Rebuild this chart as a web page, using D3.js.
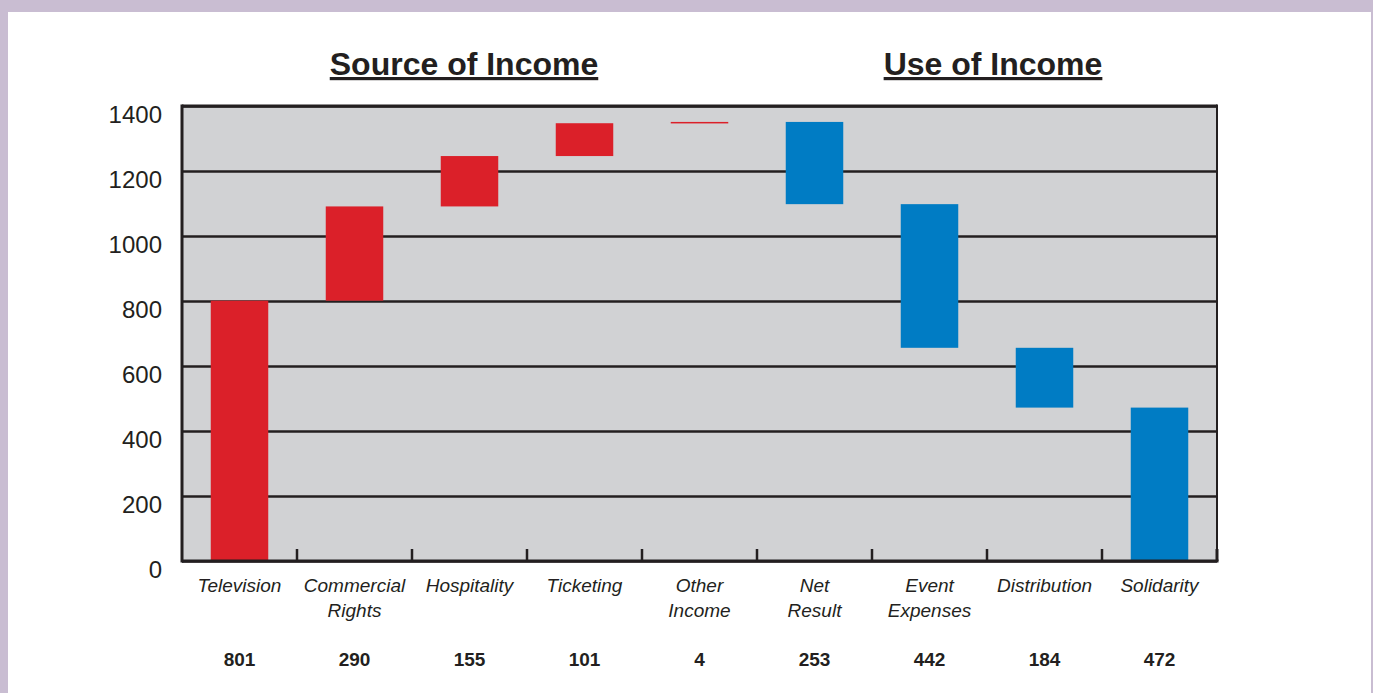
<html>
<head>
<script src="https://cdn.jsdelivr.net/npm/d3@7"></script>
<style>
  body { margin:0; background:#c9bdd2; }
  svg { display:block; }
</style>
</head>
<body>
<svg width=1373 height=693></svg>
<script>
// chart values
var categories = ["Television", "Commercial Rights", "Hospitality", "Ticketing", "Other Income",
                  "Net Result", "Event Expenses", "Distribution", "Solidarity"];
var labelLines = [["Television"], ["Commercial", "Rights"], ["Hospitality"], ["Ticketing"], ["Other", "Income"],
                  ["Net", "Result"], ["Event", "Expenses"], ["Distribution"], ["Solidarity"]];
var amounts = [801, 290, 155, 101, 4, 253, 442, 184, 472];
var direction = [1, 1, 1, 1, 1, -1, -1, -1, -1];   // +1 source, -1 use
var yTicks = [0, 200, 400, 600, 800, 1000, 1200, 1400];

var width = 1373, height = 693;
var margin = {top: 106, right: 156, bottom: 132, left: 182};
var innerwidth = width - margin.left - margin.right;
var innerheight = height - margin.top - margin.bottom;
var red = "#db2029", blue = "#007cc4", ink = "#231f20";

// running totals for the waterfall
var run = 0;
var bars = categories.map(function(c, i) {
  var start = run;
  run += direction[i] * amounts[i];
  return {cat: c, lo: Math.min(start, run), hi: Math.max(start, run), src: direction[i] > 0, i: i};
});

var svg = d3.select("svg");
// white panel inside the lavender frame
svg.append("rect").attr("x", 8).attr("y", 12).attr("width", 1363).attr("height", height - 12).attr("fill", "#fff");

var x = d3.scaleBand().domain(categories).range([0, innerwidth]);
var y = d3.scaleLinear().domain([0, 1400]).range([innerheight, 0]);

var g = svg.append("g").attr("transform", "translate(" + margin.left + "," + margin.top + ")");

g.append("rect").attr("width", innerwidth).attr("height", innerheight).attr("fill", "#d1d2d4");

// gridlines + y labels
var yAxis = g.append("g").call(d3.axisLeft(y).tickValues(yTicks).tickFormat(d3.format("d"))
  .tickSize(-innerwidth).tickPadding(20));
yAxis.select(".domain").remove();
yAxis.selectAll(".tick line").attr("stroke", ink).attr("stroke-width", 2.5);
yAxis.selectAll(".tick text")
  .attr("dy", 16).attr("font-family", "Liberation Sans, Arial, sans-serif")
  .attr("font-size", "24px").attr("fill", ink);

// bars
g.selectAll(".bar").data(bars).enter().append("rect")
  .attr("class", "bar")
  .attr("x", function(d) { return x(d.cat) + x.bandwidth() * 0.25; })
  .attr("width", x.bandwidth() * 0.5)
  .attr("y", function(d) { return y(d.hi); })
  .attr("height", function(d) { return Math.max(1.5, y(d.lo) - y(d.hi)); })
  .attr("fill", function(d) { return d.src ? red : blue; });

// frame
g.append("line").attr("x1", 0).attr("x2", innerwidth).attr("y1", 0).attr("y2", 0).attr("stroke", ink).attr("stroke-width", 3);
g.append("line").attr("x1", 0).attr("x2", 0).attr("y1", -1.5).attr("y2", innerheight + 1.5).attr("stroke", ink).attr("stroke-width", 3);
g.append("line").attr("x1", innerwidth).attr("x2", innerwidth).attr("y1", -1.5).attr("y2", innerheight).attr("stroke", ink).attr("stroke-width", 2);
g.append("line").attr("x1", 0).attr("x2", innerwidth + 1.5).attr("y1", innerheight).attr("y2", innerheight).attr("stroke", ink).attr("stroke-width", 3);

// category separator ticks
g.selectAll(".sep").data(categories.slice(1).concat(["end"])).enter().append("line")
  .attr("x1", function(d) { return d === "end" ? innerwidth : x(d); })
  .attr("x2", function(d) { return d === "end" ? innerwidth : x(d); })
  .attr("y1", innerheight - 12).attr("y2", innerheight)
  .attr("stroke", ink).attr("stroke-width", function(d) { return d === "end" ? 3 : 2.5; });

// category labels
var lab = g.selectAll(".lab").data(bars).enter().append("text")
  .attr("text-anchor", "middle")
  .attr("font-family", "Liberation Sans, Arial, sans-serif")
  .attr("font-style", "italic").attr("font-size", "19px").attr("fill", ink)
  .attr("transform", function(d) { return "translate(" + (x(d.cat) + x.bandwidth() / 2) + "," + (innerheight + 31) + ")"; });
lab.selectAll("tspan").data(function(d) { return labelLines[d.i]; }).enter().append("tspan")
  .attr("x", 0).attr("dy", function(d, j) { return j ? 25 : 0; })
  .text(function(d) { return d; });

// values
g.selectAll(".val").data(bars).enter().append("text")
  .attr("text-anchor", "middle")
  .attr("x", function(d) { return x(d.cat) + x.bandwidth() / 2; })
  .attr("y", innerheight + 105)
  .attr("font-family", "Liberation Sans, Arial, sans-serif")
  .attr("font-weight", "bold").attr("font-size", "19px").attr("fill", ink)
  .text(function(d) { return amounts[d.i]; });

// section titles
var titles = [{t: "Source of Income", cx: 464}, {t: "Use of Income", cx: 993}];
svg.selectAll(".title").data(titles).enter().append("text")
  .attr("x", function(d) { return d.cx; }).attr("y", 75)
  .attr("text-anchor", "middle")
  .attr("font-family", "Liberation Sans, Arial, sans-serif")
  .attr("font-weight", "bold").attr("font-size", "32px").attr("fill", ink)
  .attr("text-decoration", "underline")
  .text(function(d) { return d.t; });
</script>
</body>
</html>
